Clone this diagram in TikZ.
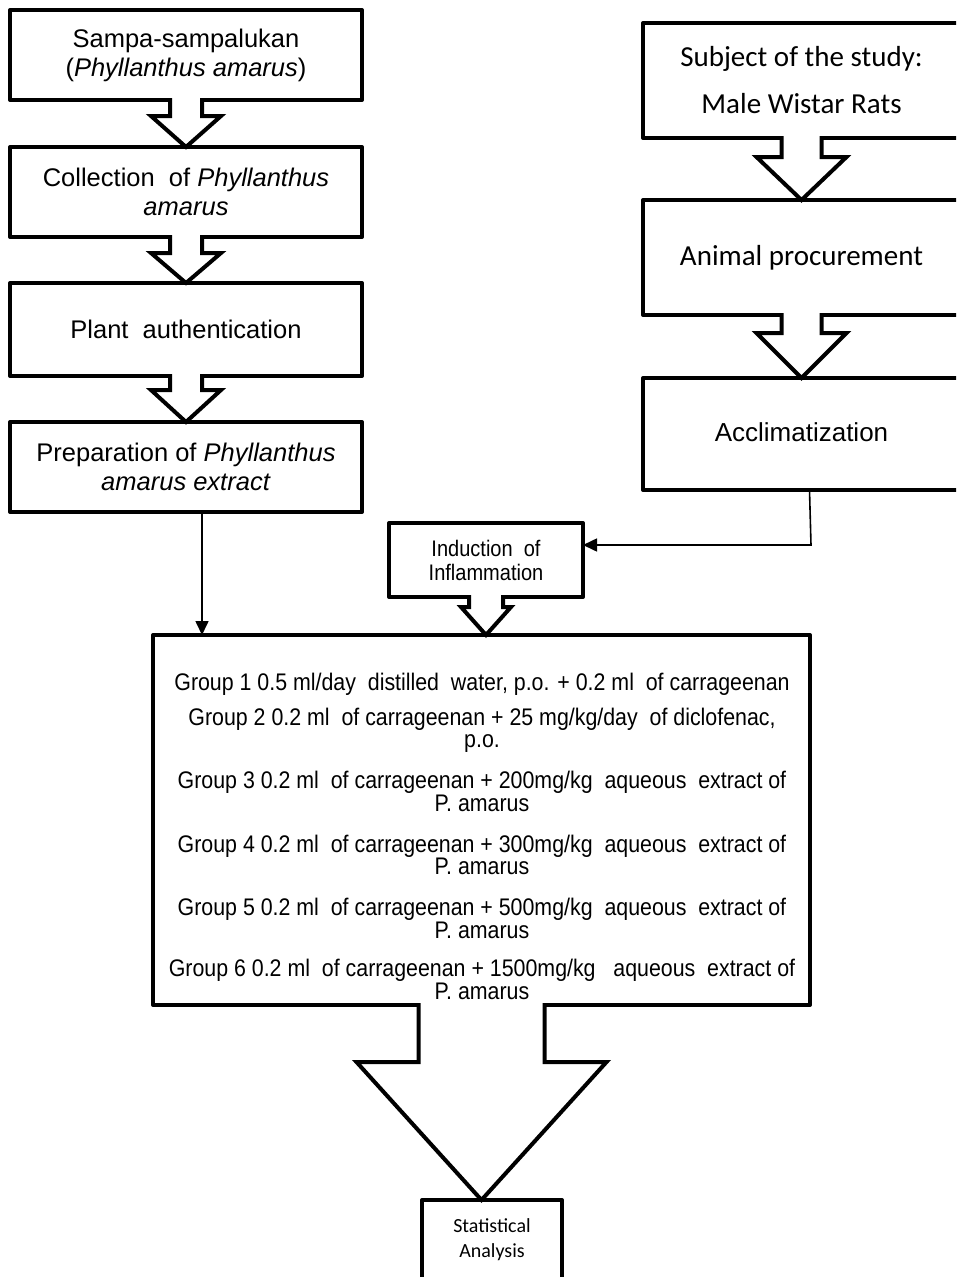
\documentclass[tikz,border=0pt]{standalone}
\usepackage{fontspec}
\setmainfont{Liberation Sans}
\newfontfamily\calfont{Carlito}
\newfontfamily\narrowfont[FakeStretch=0.89]{Liberation Sans}
\usetikzlibrary{calc,arrows.meta}
\tikzset{
  box/.style={draw=black, line width=4pt, fill=white, outer sep=0pt, inner sep=0pt, align=center, line join=round},
  leftbox/.style={box, minimum width=352pt, font=\fontsize{25.5}{29}\selectfont},
  rightbox/.style={box, minimum width=317pt},
  blk/.style={draw=black, line width=4pt, fill=white, line join=miter},
  conn/.style={draw=black, line width=1.6pt, -{Triangle[length=14pt,width=13pt]}},
}
% block arrow: #1 from node, #2 to node, #3 half stem width, #4 half wing width, #5 stem length
\newcommand\blockarrow[5]{%
  \path[blk] ($(#1.south)+(-#3,-2)$) -- ($(#1.south)+(-#3,#5)$) -- ($(#1.south)+(-#4,#5)$)
    -- (#1.south |- #2.north) -- ($(#1.south)+(#4,#5)$) -- ($(#1.south)+(#3,#5)$)
    -- ($(#1.south)+(#3,-2)$);
}
\begin{document}
\begin{tikzpicture}[x=1pt,y=-1pt]
\useasboundingbox (0,0) rectangle (956,1277);
\clip (0,0) rectangle (956,1277);
\fill[white] (0,0) rectangle (956,1277);

% left column
\node[leftbox, minimum height=90pt] (A) at (186,55) {Sampa-sampalukan\\(\textit{Phyllanthus} \textit{amarus})};
\node[leftbox, minimum height=90pt] (B) at (186,192) {Collection\ \ of \textit{Phyllanthus}\\\textit{amarus}};
\node[leftbox, minimum height=93pt] (C) at (186,329.5) {Plant\ \ authentication};
\node[leftbox, minimum height=90pt] (D) at (186,467) {Preparation of \textit{Phyllanthus}\\\textit{amarus} \textit{extract}};

% right column
\node[rightbox, minimum height=115pt, font=\calfont\fontsize{29}{47}\selectfont] (E) at (801.5,80.5) {Subject of the study:\\Male Wistar Rats};
\node[rightbox, minimum height=115pt, font=\calfont\fontsize{29}{35}\selectfont] (F) at (801.5,257.5) {Animal procurement};
\node[rightbox, minimum height=112pt, font=\fontsize{26}{30}\selectfont] (G) at (801.5,434) {\raisebox{4pt}{Acclimatization}};

% induction
\node[box, minimum width=194pt, minimum height=74pt, font=\narrowfont\fontsize{22.5}{24}\selectfont] (I) at (486,560) {Induction\ \ of\\Inflammation};

% groups box
\node[box, minimum width=657pt, minimum height=370pt] (H) at (481.5,820) {};
\node[align=center, inner sep=0pt, font=\narrowfont\fontsize{24}{22.5}\selectfont] (T) at (482,836) {%
Group 1 0.5 ml/day\ \ distilled\ \ water, p.o. + 0.2 ml\ \ of carrageenan\\[12.5pt]
Group 2 0.2 ml\ \ of carrageenan + 25 mg/kg/day\ \ of diclofenac,\\
p.o.\\[18.5pt]
Group 3 0.2 ml\ \ of carrageenan + 200mg/kg\ \ aqueous\ \ extract of\\
P. amarus\\[18.5pt]
Group 4 0.2 ml\ \ of carrageenan + 300mg/kg\ \ aqueous\ \ extract of\\
P. amarus\\[18.5pt]
Group 5 0.2 ml\ \ of carrageenan + 500mg/kg\ \ aqueous\ \ extract of\\
P. amarus\\[16pt]
Group 6 0.2 ml\ \ of carrageenan + 1500mg/kg\ \ \ aqueous\ \ extract of\\
P. amarus};

% statistical analysis
\node[box, minimum width=140pt, minimum height=80pt, font=\calfont\fontsize{20}{25}\selectfont] (S) at (492,1240) {\raisebox{3pt}{\begin{tabular}{@{}c@{}}Statistical\\Analysis\end{tabular}}};

% block arrows
\blockarrow{A}{B}{16}{35}{16}
\blockarrow{B}{C}{16}{35}{16}
\blockarrow{C}{D}{16}{35}{14}
\blockarrow{E}{F}{20}{45}{19}
\blockarrow{F}{G}{20}{45}{18}
\blockarrow{I}{H}{17}{25}{10}
\blockarrow{H}{S}{63}{125}{57}

% connectors
\coordinate (d1) at ($(D.south)+(16,0)$);
\draw[conn] (d1) -- (d1 |- H.north);
\coordinate (g1) at ($(G.south)+(8,0)$);
\coordinate (c1) at (811,545);
\draw[conn] (g1) -- (c1) -- (c1 -| I.east);
\end{tikzpicture}
\end{document}
